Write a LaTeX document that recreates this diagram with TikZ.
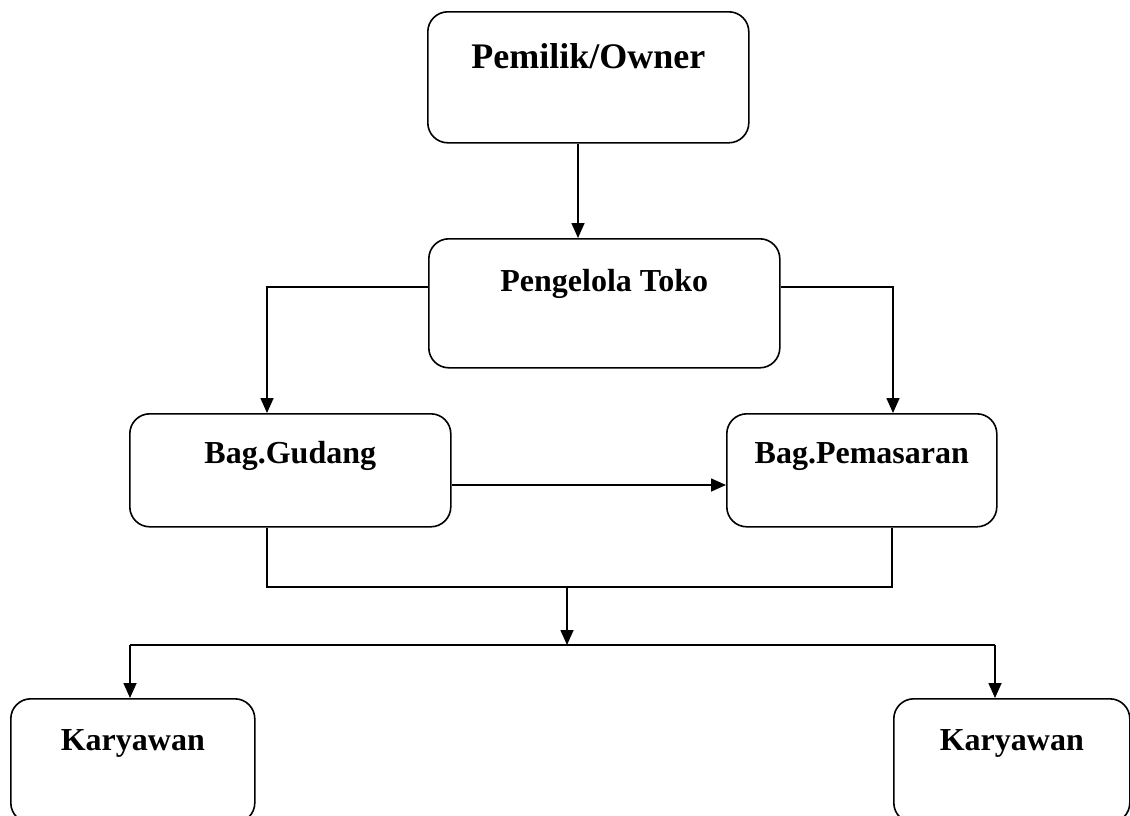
\documentclass[tikz,border=0pt]{standalone}
\usepackage{fontspec}
\setmainfont{Liberation Serif}
\usetikzlibrary{arrows.meta,calc}
\begin{document}
\begin{tikzpicture}[x=1pt,y=-1pt,
  box/.style={draw,line width=1.6pt,rounded corners=20pt,inner sep=0pt,anchor=north west,font=\fontsize{32}{32}\selectfont\bfseries,align=center},
  conn/.style={line width=1.6pt},
  arr/.style={line width=1.6pt,-{Triangle[length=15pt,width=13pt]}}]
\useasboundingbox (0,0) rectangle (1130,815);
\clip (0,0) rectangle (1130,815);
% boxes
\node[box,minimum width=321pt,text height=57pt,text depth=74pt,font=\fontsize{36}{36}\selectfont\bfseries] (own) at (427,11) {Pemilik/Owner};
\node[box,minimum width=351pt,text height=53pt,text depth=76pt] (peng) at (428,238) {Pengelola Toko};
\node[box,minimum width=321pt,text height=50pt,text depth=63pt] (gud) at (129,413) {Bag.Gudang};
\node[box,minimum width=270pt,text height=50pt,text depth=63pt] (pem) at (726,413) {Bag.Pemasaran};
\node[box,minimum width=244pt,text height=52pt,text depth=72pt] (kar1) at (10,698) {Karyawan};
\node[box,minimum width=236pt,text height=52pt,text depth=72pt] (kar2) at (893,698) {Karyawan};
% helper coordinates
\coordinate (xa) at (578,0);
\coordinate (xl) at (267,287);
\coordinate (xr) at (893,287);
\coordinate (yg) at (0,485);
\coordinate (j1) at (267,587);
\coordinate (j2) at (892,587);
\coordinate (jm) at (567,587);
\coordinate (jb) at (567,645);
\coordinate (b1) at (130,645);
\coordinate (b2) at (995,645);
% connectors
\draw[arr] (own.south -| xa) -- (peng.north -| xa);
\draw[arr] (peng.west |- xl) -- (xl) -- (gud.north -| xl);
\draw[arr] (peng.east |- xr) -- (xr) -- (pem.north -| xr);
\draw[arr] (gud.east |- yg) -- (pem.west |- yg);
\draw[conn] (gud.south -| j1) -- (j1) -- (j2) -- (pem.south -| j2);
\draw[arr] (jm) -- (jb);
\draw[conn] (b1) -- (b2);
\draw[arr] (b1) -- (kar1.north -| b1);
\draw[arr] (b2) -- (kar2.north -| b2);
\end{tikzpicture}
\end{document}
